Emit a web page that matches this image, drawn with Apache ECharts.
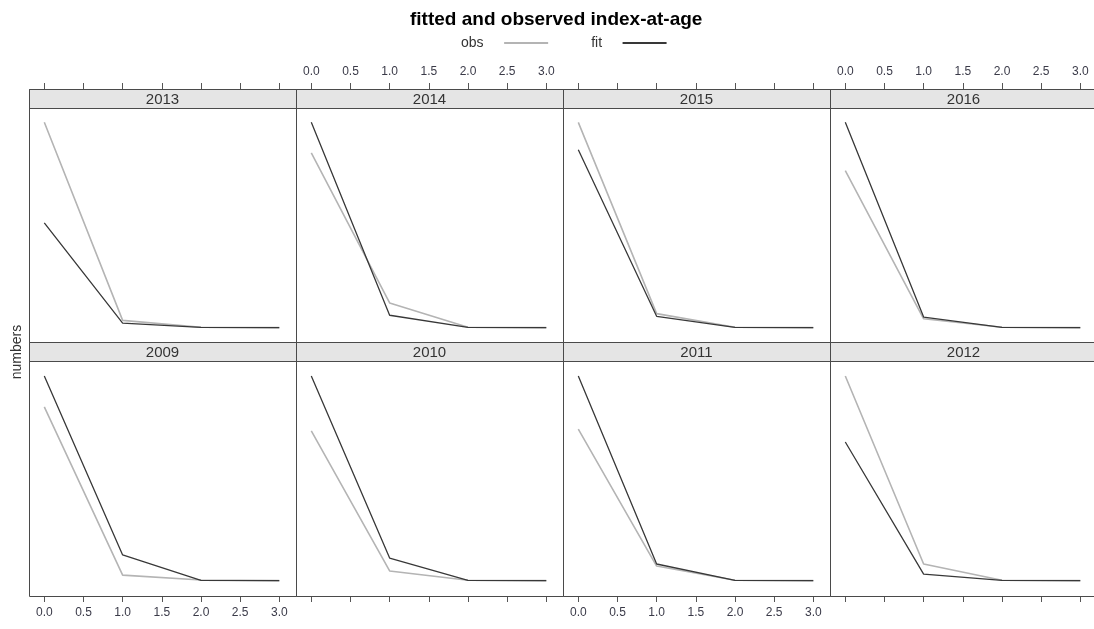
<!DOCTYPE html>
<html>
<head>
<meta charset="utf-8">
<script src="https://cdn.jsdelivr.net/npm/echarts@6/dist/echarts.min.js"></script>
<style>
html, body { margin: 0; padding: 0; background: #fff; }
#main { width: 1094px; height: 629px; }
</style>
</head>
<body>
<div id="main"></div>
<script>
// panels in lattice order: top row then bottom row
var years = ['2013', '2014', '2015', '2016', '2009', '2010', '2011', '2012'];
var ages = [0, 1, 2, 3];
// index-at-age, relative to the panel max (y scale is free per panel)
var obsIndex = [
	[100, 3.7, 0.4, 0.2],
	[85.1, 12.2, 0.4, 0.2],
	[100, 7.0, 0.4, 0.2],
	[76.5, 4.5, 0.4, 0.2],
	[84.9, 2.9, 0.5, 0.2],
	[73.2, 4.9, 0.4, 0.2],
	[74.1, 7.3, 0.4, 0.2],
	[100, 8.3, 0.4, 0.2]
];
var fitIndex = [
	[51.1, 2.4, 0.3, 0.2],
	[100, 6.2, 0.3, 0.2],
	[86.7, 5.7, 0.3, 0.2],
	[100, 5.3, 0.3, 0.2],
	[100, 12.7, 0.3, 0.2],
	[100, 11.2, 0.3, 0.2],
	[100, 8.3, 0.3, 0.2],
	[67.8, 3.4, 0.3, 0.2]
];

var font = 'Liberation Sans, Arial, sans-serif';
var panelW = 267;
var left0 = 29;
var padL = 15.3;     // space between panel edge and age 0
var plotW = 235;     // ages 0..3
var stripH = 19;
var rowTop = [89, 342];
var rowBottom = [342, 596];

var grids = [], xAxes = [], yAxes = [], series = [], graphics = [];

function pairs(vals) {
	var out = [];
	for (var k = 0; k < ages.length; k++) out.push([ages[k], vals[k]]);
	return out;
}

for (var i = 0; i < years.length; i++) {
	var row = i < 4 ? 0 : 1;
	var col = i % 4;
	var x0 = left0 + col * panelW;
	var gridTop = row == 0 ? rowTop[0] : rowTop[1] + stripH;
	var gridH = rowBottom[row] - gridTop;
	grids.push({ left: x0 + padL, top: gridTop, width: plotW, height: gridH });

	// labels alternate like lattice
	var showLabel = row == 0 ? (col % 2 == 1) : (col % 2 == 0);
	xAxes.push({
		type: 'value',
		gridIndex: i,
		position: row == 0 ? 'top' : 'bottom',
		min: 0,
		max: 3,
		interval: 0.5,
		axisLine: { show: false, onZero: false },
		splitLine: { show: false },
		axisTick: { show: true, length: 6, lineStyle: { color: '#555' } },
		axisLabel: {
			show: showLabel,
			margin: row == 0 ? 11 : 11,
			color: '#3a3a48',
			fontSize: 12,
			fontFamily: font,
			formatter: function(v) { return v.toFixed(1); }
		}
	});
	yAxes.push({
		type: 'value',
		gridIndex: i,
		min: row == 0 ? -6.8 : -7.3,
		max: row == 0 ? 116.2 : 107.3,
		show: false
	});
	series.push({
		name: 'obs', type: 'line', xAxisIndex: i, yAxisIndex: i,
		symbol: 'none', data: pairs(obsIndex[i]),
		lineStyle: { color: '#b4b4b4', width: 1.6 }, itemStyle: { color: '#b4b4b4' }
	});
	series.push({
		name: 'fit', type: 'line', xAxisIndex: i, yAxisIndex: i,
		symbol: 'none', data: pairs(fitIndex[i]),
		lineStyle: { color: '#383838', width: 1.3 }, itemStyle: { color: '#383838' }
	});

	// strip with year
	var sy = rowTop[row];
	graphics.push({
		type: 'rect', z: 10,
		shape: { x: x0 + 0.5, y: sy + 0.5, width: panelW, height: stripH },
		style: { fill: '#e5e5e5', stroke: '#4a4a4a', lineWidth: 1 }
	});
	graphics.push({
		type: 'text', z: 11,
		x: x0 + panelW / 2, y: sy + stripH / 2 + 1,
		style: { text: years[i], fill: '#333', font: '15px ' + font, textAlign: 'center', textVerticalAlign: 'middle' }
	});
	// panel border
	graphics.push({
		type: 'rect', z: 10,
		shape: { x: x0 + 0.5, y: sy + 0.5, width: panelW, height: rowBottom[row] - sy },
		style: { fill: 'none', stroke: '#4a4a4a', lineWidth: 1 }
	});
}

graphics.push({
	type: 'text', z: 11,
	x: 17, y: 352, rotation: Math.PI / 2,
	style: { text: 'numbers', fill: '#333', font: '14px ' + font, textAlign: 'center', textVerticalAlign: 'middle' }
});

var myChart = echarts.init(document.getElementById('main'));
var option = {
	backgroundColor: '#fff',
	animation: false,
	title: {
		text: 'fitted and observed index-at-age',
		left: 405, top: 5,
		textStyle: { fontSize: 19, fontWeight: 'bold', color: '#000', fontFamily: font }
	},
	legend: {
		data: [{ name: 'obs', icon: 'rect' }, { name: 'fit', icon: 'rect' }],
		left: 456, top: 31,
		align: 'right',
		itemWidth: 44, itemHeight: 2, itemGap: 43,
		formatter: function(name) { return name + '    '; },
		textStyle: { fontSize: 14, color: '#333', fontFamily: font }
	},
	grid: grids,
	xAxis: xAxes,
	yAxis: yAxes,
	series: series,
	graphic: graphics
};
myChart.setOption(option);
</script>
</body>
</html>
